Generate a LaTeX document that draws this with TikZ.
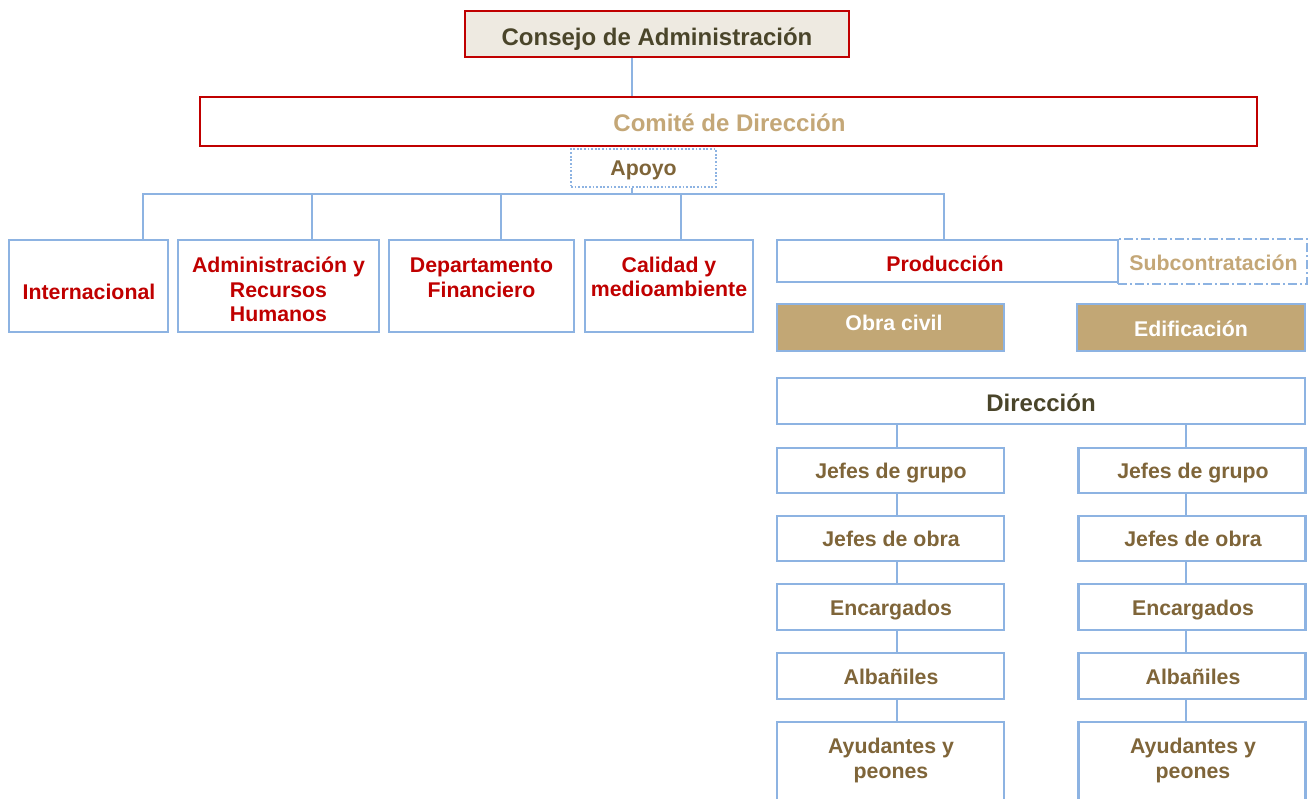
\documentclass[tikz,border=0pt]{standalone}
\usepackage{fontspec}
\setmainfont{Liberation Sans}
\definecolor{lblue}{HTML}{8DB3E2}
\definecolor{dred}{HTML}{C00000}
\definecolor{mytan}{HTML}{C4A777}
\definecolor{brn}{HTML}{7F6539}
\definecolor{darkol}{HTML}{4A452A}
\definecolor{beige}{HTML}{EEEAE1}
\definecolor{tanfill}{HTML}{C2A775}
\begin{document}
\begin{tikzpicture}[x=1pt,y=-1pt,
  bx/.style 2 args={draw=lblue,line width=2.4pt,rectangle,inner sep=0pt,minimum width=#1,minimum height=#2},
  conn/.style={draw=lblue,line width=2.4pt},
  small/.style={font=\fontsize{21.3}{24.5}\selectfont\bfseries,inner sep=0pt,align=center},
  big/.style={font=\fontsize{24}{28}\selectfont\bfseries,inner sep=0pt},
  redt/.style={small,text=dred},
  brnt/.style={small,text=brn}]
\clip (0,0) rectangle (1308,798);
\fill[white] (0,0) rectangle (1308,798);
% top
\node[bx={384}{46},fill=beige,draw=dred,line width=2.4pt] (consejo) at (657,34) {};
\node[big,text=darkol,anchor=base] (consejot) at (657,45) {Consejo de Administración};
\node[bx={1057}{49},draw=dred] (comite) at (728.5,121.5) {};
\node[big,text=mytan,anchor=base] (comitet) at (729.5,131) {Comité de Dirección};
\node[bx={145}{38},line width=1.8pt,dash pattern=on 1.8pt off 1.8pt] (apoyo) at (643.5,168) {};
\node[brnt,anchor=base] (apoyot) at (643.5,175) {Apoyo};
% departments
\node[bx={159}{92}] (intl) at (88.5,286) {};
\node[redt,anchor=base] (intlt) at (89,299.5) {Internacional};
\node[bx={201}{92}] (admin) at (278.5,286) {};
\node[redt] (admint) at (278.5,289.3) {Administración y\\Recursos\\Humanos};
\node[bx={185}{92}] (depto) at (481.5,286) {};
\node[redt] (deptot) at (481.5,277.8) {Departamento\\Financiero};
\node[bx={168}{92}] (calidad) at (669,286) {};
\node[redt] (calidadt) at (669,276.8) {Calidad y\\medioambiente};
\node[bx={341}{42}] (prod) at (947.5,261) {};
\node[redt,anchor=base] (prodt) at (945,271.5) {Producción};
\node[bx={189}{45},line width=2pt,dash pattern=on 9pt off 3pt on 2pt off 3pt] (subc) at (1212.5,261.5) {};
\node[small,text=mytan,anchor=base] (subct) at (1213.5,270) {Subcontratación};
\node[bx={227}{47},fill=tanfill] (obra) at (890.5,327.5) {};
\node[small,text=white,anchor=base] (obrat) at (894,330.5) {Obra civil};
\node[bx={228}{47},fill=tanfill] (edif) at (1191,327.5) {};
\node[small,text=white,anchor=base] (edift) at (1191,336) {Edificación};
\node[bx={528}{46}] (dir) at (1041,401) {};
\node[big,text=darkol,anchor=base] (dirt) at (1041,411.5) {Dirección};
% columns
\foreach \c/\x/\tx in {1/890.5/891,2/1192/1193}{
  \node[bx={227}{45}] (jg\c) at (\x,470.5) {};
  \node[brnt,anchor=base] (jg\c t) at (\tx,478.5) {Jefes de grupo};
  \node[bx={227}{45}] (jo\c) at (\x,538.5) {};
  \node[brnt,anchor=base] (jo\c t) at (\tx,546.5) {Jefes de obra};
  \node[bx={227}{46}] (enc\c) at (\x,607) {};
  \node[brnt,anchor=base] (enc\c t) at (\tx,615.5) {Encargados};
  \node[bx={227}{46}] (alb\c) at (\x,676) {};
  \node[brnt,anchor=base] (alb\c t) at (\tx,684.5) {Albañiles};
  \node[bx={227}{90}] (ay\c) at (\x,767) {};
  \node[brnt] (ay\c t) at (\tx,760.5) {Ayudantes y\\peones};
}
% connectors
\coordinate (bus) at (0,194);
\coordinate (xc) at (632,0);
\coordinate (xa) at (143,0);
\coordinate (xb) at (312,0);
\coordinate (xd) at (501,0);
\coordinate (xe) at (681,0);
\coordinate (xf) at (944,0);
\coordinate (xl) at (897,0);
\coordinate (xr) at (1186,0);
\draw[conn] (consejo.south -| xc) -- (comite.north -| xc);
\draw[conn] (apoyo.south -| xc) -- (bus -| xc);
\draw[conn] (intl.north -| xa) -- (bus -| xa) -- (bus -| xf) -- (prod.north -| xf);
\draw[conn] (admin.north -| xb) -- (bus -| xb);
\draw[conn] (depto.north -| xd) -- (bus -| xd);
\draw[conn] (calidad.north -| xe) -- (bus -| xe);
\foreach \c/\xx in {1/xl,2/xr}{
  \draw[conn] (dir.south -| \xx) -- (jg\c.north -| \xx);
  \draw[conn] (jg\c.south -| \xx) -- (jo\c.north -| \xx);
  \draw[conn] (jo\c.south -| \xx) -- (enc\c.north -| \xx);
  \draw[conn] (enc\c.south -| \xx) -- (alb\c.north -| \xx);
  \draw[conn] (alb\c.south -| \xx) -- (ay\c.north -| \xx);
}
\end{tikzpicture}
\end{document}
